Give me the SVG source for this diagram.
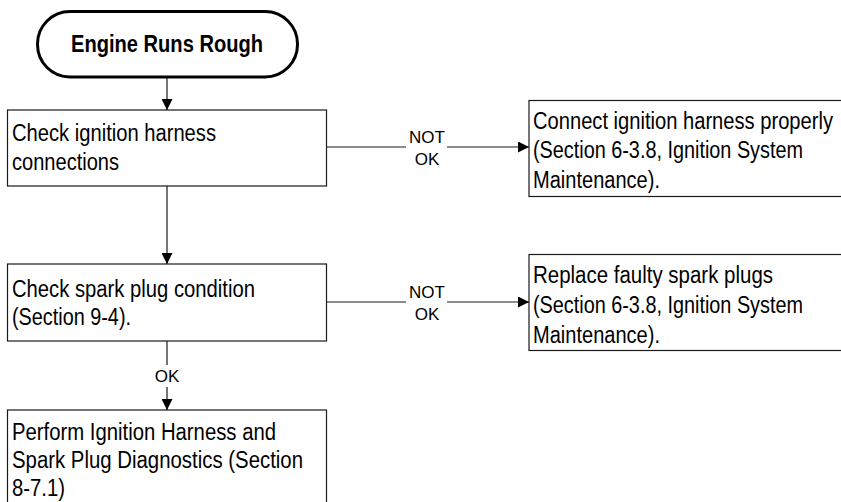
<svg xmlns="http://www.w3.org/2000/svg" width="841" height="502" viewBox="0 0 841 502">
  <style>
    .box { fill: #ffffff; stroke: #1a1a1a; stroke-width: 1.2; }
    .term { fill: #ffffff; stroke: #000000; stroke-width: 3; }
    .txt { font-family: "Liberation Sans", Arial, sans-serif; font-size: 23px; fill: #000000; }
    .bold { font-weight: bold; }
    .lbl { font-family: "Liberation Sans", Arial, sans-serif; font-size: 17px; fill: #000000; text-anchor: middle; }
    .wire { fill: none; stroke: #1a1a1a; stroke-width: 1.2; }
  </style>
  <defs>
    <marker id="arrow" markerUnits="userSpaceOnUse" markerWidth="12" markerHeight="11" refX="11" refY="5.5" orient="auto">
      <path d="M0,0 L11,5.5 L0,11 Z" fill="#000000"/>
    </marker>
  </defs>

  <rect width="841" height="502" fill="#ffffff"/>

  <!-- connectors -->
  <g id="connectors">
    <line class="wire" x1="167" y1="78" x2="167" y2="110" marker-end="url(#arrow)"/>
    <line class="wire" x1="167" y1="186" x2="167" y2="264" marker-end="url(#arrow)"/>
    <line class="wire" x1="167" y1="341" x2="167" y2="365"/>
    <line class="wire" x1="167" y1="387" x2="167" y2="410" marker-end="url(#arrow)"/>
    <text class="lbl" x="167" y="382">OK</text>

    <line class="wire" x1="326" y1="147" x2="406" y2="147"/>
    <line class="wire" x1="447" y1="147" x2="529" y2="147" marker-end="url(#arrow)"/>
    <text class="lbl" x="427" y="143">NOT</text>
    <text class="lbl" x="427" y="165">OK</text>

    <line class="wire" x1="326" y1="302" x2="406" y2="302"/>
    <line class="wire" x1="447" y1="302" x2="529" y2="302" marker-end="url(#arrow)"/>
    <text class="lbl" x="427" y="298">NOT</text>
    <text class="lbl" x="427" y="320">OK</text>
  </g>

  <!-- start terminator -->
  <g id="start">
    <rect class="term" x="37.5" y="11.5" width="260" height="65.5" rx="32.5" ry="32.5"/>
    <text class="txt bold" x="71" y="52" textLength="192" lengthAdjust="spacingAndGlyphs">Engine Runs Rough</text>
  </g>

  <g id="check-harness">
    <rect class="box" x="7.5" y="110" width="319" height="76"/>
    <text class="txt" x="12" y="141" textLength="204" lengthAdjust="spacingAndGlyphs">Check ignition harness</text>
    <text class="txt" x="12" y="170" textLength="107" lengthAdjust="spacingAndGlyphs">connections</text>
  </g>

  <!-- right-hand boxes run off the right edge of the sheet -->
  <g id="connect-harness">
    <rect class="box" x="529" y="100.5" width="314" height="96"/>
    <text class="txt" x="533" y="128.5" textLength="300" lengthAdjust="spacingAndGlyphs">Connect ignition harness properly</text>
    <text class="txt" x="533" y="158" textLength="270" lengthAdjust="spacingAndGlyphs">(Section 6-3.8, Ignition System</text>
    <text class="txt" x="533" y="187.5" textLength="127" lengthAdjust="spacingAndGlyphs">Maintenance).</text>
  </g>

  <g id="check-plugs">
    <rect class="box" x="7.5" y="264" width="319" height="77"/>
    <text class="txt" x="12" y="296.5" textLength="243" lengthAdjust="spacingAndGlyphs">Check spark plug condition</text>
    <text class="txt" x="12" y="325" textLength="119" lengthAdjust="spacingAndGlyphs">(Section 9-4).</text>
  </g>

  <g id="replace-plugs">
    <rect class="box" x="529" y="254.5" width="314" height="96"/>
    <text class="txt" x="533" y="283" textLength="240" lengthAdjust="spacingAndGlyphs">Replace faulty spark plugs</text>
    <text class="txt" x="533" y="313" textLength="270" lengthAdjust="spacingAndGlyphs">(Section 6-3.8, Ignition System</text>
    <text class="txt" x="533" y="342.5" textLength="127" lengthAdjust="spacingAndGlyphs">Maintenance).</text>
  </g>

  <g id="diagnostics">
    <rect class="box" x="7.5" y="410" width="319" height="120"/>
    <text class="txt" x="12" y="440" textLength="264" lengthAdjust="spacingAndGlyphs">Perform Ignition Harness and</text>
    <text class="txt" x="12" y="468" textLength="291" lengthAdjust="spacingAndGlyphs">Spark Plug Diagnostics (Section</text>
    <text class="txt" x="12" y="496" textLength="53" lengthAdjust="spacingAndGlyphs">8-7.1)</text>
  </g>
</svg>
